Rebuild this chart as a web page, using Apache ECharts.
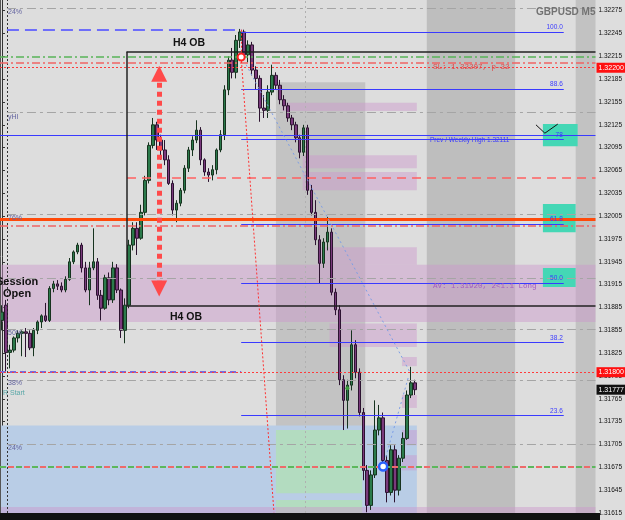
<!DOCTYPE html>
<html><head><meta charset="utf-8">
<script src="https://cdn.jsdelivr.net/npm/echarts@6/dist/echarts.min.js"></script>
<style>html,body{margin:0;padding:0;background:#dddddd}#c{width:625px;height:520px}</style>
</head><body><div id="c"></div>
<script>
// ---- data (GBPUSD M5) ----
const opens = [
1.31868,1.31888,1.31826,1.31829,1.31845,1.31851,1.31853,1.31851,1.31832,1.31855,
1.31866,1.31874,1.31868,1.31910,1.31916,1.31913,1.31908,1.31922,1.31945,1.31958,
1.31967,1.31937,1.31908,1.31937,1.31945,1.31901,1.31884,1.31924,1.31895,1.31937,
1.31908,1.31855,1.31888,1.31967,1.31989,1.31976,1.32010,1.32052,1.32098,1.32125,
1.32105,1.32092,1.32079,1.32048,1.32013,1.32022,1.32039,1.32068,1.32092,1.32105,
1.32118,1.32079,1.32063,1.32059,1.32066,1.32092,1.32112,1.32171,1.32210,1.32194,
1.32236,1.32247,1.32217,1.32230,1.32197,1.32186,1.32147,1.32144,1.32168,1.32190,
1.32177,1.32158,1.32150,1.32134,1.32125,1.32108,1.32089,1.32121,1.32039,1.32010,
1.31974,1.31943,1.31971,1.31984,1.31905,1.31882,1.31790,1.31763,1.31783,1.31836,
1.31800,1.31747,1.31671,1.31625,1.31665,1.31724,1.31740,1.31684,1.31642,1.31698,
1.31645,1.31687,1.31713,1.31770,1.31786];
const closes = [
1.31879,1.31826,1.31829,1.31845,1.31851,1.31853,1.31851,1.31832,1.31855,1.31866,
1.31874,1.31868,1.31910,1.31916,1.31913,1.31908,1.31922,1.31945,1.31958,1.31967,
1.31937,1.31908,1.31937,1.31945,1.31901,1.31884,1.31924,1.31895,1.31937,1.31908,
1.31855,1.31888,1.31967,1.31989,1.31976,1.32010,1.32052,1.32098,1.32125,1.32105,
1.32092,1.32079,1.32048,1.32013,1.32022,1.32039,1.32068,1.32092,1.32105,1.32118,
1.32079,1.32063,1.32059,1.32066,1.32092,1.32112,1.32171,1.32210,1.32194,1.32236,
1.32247,1.32217,1.32230,1.32197,1.32186,1.32147,1.32144,1.32168,1.32190,1.32177,
1.32158,1.32150,1.32134,1.32125,1.32108,1.32089,1.32121,1.32039,1.32010,1.31974,
1.31943,1.31971,1.31984,1.31905,1.31882,1.31790,1.31763,1.31783,1.31836,1.31800,
1.31747,1.31671,1.31625,1.31665,1.31724,1.31740,1.31684,1.31642,1.31698,1.31645,
1.31687,1.31713,1.31770,1.31786,1.31777];
const highs = [
1.31888,1.31895,1.31836,1.31847,1.31855,1.31855,1.31858,1.31855,1.31858,1.31868,
1.31876,1.31891,1.31913,1.31920,1.31921,1.31918,1.31926,1.31950,1.31960,1.31970,
1.31970,1.31945,1.31945,1.31989,1.31950,1.31908,1.31928,1.31931,1.31945,1.31942,
1.31910,1.31897,1.31974,1.31997,1.31997,1.32020,1.32058,1.32102,1.32134,1.32129,
1.32112,1.32105,1.32085,1.32052,1.32026,1.32042,1.32072,1.32096,1.32110,1.32131,
1.32122,1.32081,1.32068,1.32072,1.32094,1.32118,1.32177,1.32215,1.32226,1.32243,
1.32251,1.32250,1.32236,1.32234,1.32202,1.32190,1.32164,1.32177,1.32204,1.32194,
1.32184,1.32164,1.32154,1.32138,1.32129,1.32112,1.32125,1.32125,1.32046,1.32026,
1.31980,1.31976,1.32004,1.31989,1.31910,1.31888,1.31796,1.31790,1.31855,1.31842,
1.31805,1.31753,1.31678,1.31671,1.31763,1.31757,1.31747,1.31691,1.31704,1.31704,
1.31691,1.31721,1.31776,1.31807,1.31790];
const lows = [
1.31855,1.31800,1.31805,1.31826,1.31839,1.31821,1.31820,1.31829,1.31821,1.31850,
1.31858,1.31866,1.31866,1.31905,1.31908,1.31905,1.31905,1.31920,1.31942,1.31955,
1.31931,1.31905,1.31888,1.31934,1.31895,1.31868,1.31882,1.31888,1.31891,1.31904,
1.31845,1.31838,1.31884,1.31960,1.31954,1.31974,1.32006,1.32048,1.32094,1.32092,
1.32079,1.32072,1.32046,1.32006,1.31997,1.32018,1.32035,1.32063,1.32084,1.32101,
1.32072,1.32058,1.32050,1.32052,1.32060,1.32089,1.32105,1.32164,1.32186,1.32186,
1.32226,1.32210,1.32207,1.32190,1.32171,1.32129,1.32134,1.32134,1.32164,1.32171,
1.32152,1.32144,1.32129,1.32118,1.32102,1.32081,1.32084,1.32033,1.32006,1.31967,
1.31917,1.31937,1.31960,1.31901,1.31875,1.31783,1.31724,1.31726,1.31776,1.31792,
1.31742,1.31658,1.31616,1.31619,1.31661,1.31717,1.31671,1.31629,1.31638,1.31629,
1.31638,1.31682,1.31711,1.31766,1.31770];
const slotCount = 150;                       // bar slots across the chart (incl. empty future)
const categories = Array.from({length: slotCount}, (_, i) => 'bar' + i);
const priceTicks = [1.31615,1.31645,1.31675,1.31705,1.31735,1.31765,1.31795,1.31825,1.31855,
  1.31885,1.31915,1.31945,1.31975,1.32005,1.32035,1.32065,1.32095,1.32125,1.32155,1.32185,
  1.32215,1.32245,1.32275];
const fibLevels = [1.32247,1.32172,1.32106,1.31995,1.31917,1.31839,1.31743];
const fibLabels = ['100.0','88.6','78','61.8','50.0','38.2','23.6'];
const yMin = 1.31615, yMax = 1.32289;

// ---- drawing helpers ----
const L = -0.5, R = 149.5; // bar-unit extent
const BLUE = '#3a3aff';
const GRAY_DD = {color:'#a5a5a5', width:1, type:[9,4,3,4]};
function hline(p, x1, x2, style, label){
  return [{coord:[x1,p], lineStyle:style, label: label || {show:false}}, {coord:[x2,p]}];
}
function seg(x1,p1,x2,p2,style){
  return [{coord:[x1,p1], lineStyle:style, label:{show:false}}, {coord:[x2,p2]}];
}
function area(x1,p1,x2,p2,color){
  return [{coord:[x1,p1], itemStyle:{color:color}}, {coord:[x2,p2]}];
}
function priceTag(txt, bg){
  return {show:true, position:'end', formatter:txt, backgroundColor:bg, color:'#fff',
    fontSize:7, fontFamily:'Liberation Sans', padding:[2,2,1,2], distance:1};
}
const PINK = 'rgba(205,150,205,0.45)';
const SOLID = (c, w) => ({color:c, width:w, type:'solid'});

const zoneAreas = [
  area(69, 1.32181, 91.5, yMin, '#c3c3c3'),
  area(107, yMax, 129.25, yMin, '#bebebe'),
  area(144.5, yMax, R, yMin, '#c2c2c2'),
  area(L, 1.31730, 104.5, yMin, '#b9cde6'),
  area(69, 1.31724, 90.75, 1.31641, '#b3dcc0'),
  area(69, 1.31632, 90.75, yMin, '#b3dcc0'),
  area(L, 1.31941, R, 1.31866, PINK),
  area(70.5, 1.32154, 104.5, 1.32143, PINK),
  area(75.75, 1.32085, 104.5, 1.32068, PINK),
  area(75.75, 1.32063, 104.5, 1.32039, PINK),
  area(79.5, 1.31964, 104.5, 1.31941, PINK),
  area(82.5, 1.31864, 104.5, 1.31833, PINK),
  area(100.75, 1.31820, 104.5, 1.31808, PINK),
  area(100.75, 1.31770, 104.5, 1.31753, PINK),
  area(100.75, 1.31724, 104.5, 1.31704, PINK),
  area(100.75, 1.31691, 104.5, 1.31671, PINK),
  area(L, 1.31623, R, yMin, PINK),
  area(136.25, 1.32126, 145, 1.32097, '#44d7b5'),
  area(136.25, 1.32021, 144.5, 1.31984, '#44d7b5'),
  area(136.25, 1.31937, 144.5, 1.31912, '#44d7b5')
];

const levelLines = [
  seg(-0.375, yMin, -0.375, yMax, SOLID('#555', 1)),
  seg(1.25, yMin, 1.25, yMax, {color:'#333', width:1, type:[2,2]}),
  seg(76.5, yMin, 76.5, yMax, {color:'#b0b0b0', width:1, type:[2,3]}),
  hline(1.32278, 1.25, R, GRAY_DD),
  hline(1.32250, 1.25, 60.25, {color:'#6e6efa', width:2, type:[12,6]}),
  hline(1.32214, L, R, {color:'#58b458', width:1.5, type:[8,3,2,3]}),
  hline(1.32207, L, R, {color:'#f06464', width:1.5, type:[8,3,2,3]}),
  hline(1.32200, L, R, {color:'#ff3b3b', width:1, type:[2,2]}, priceTag('1.32200','#ff1010')),
  hline(1.32142, 1.25, R, GRAY_DD),
  hline(1.32111, L, R, SOLID(BLUE, 1)),
  hline(1.32055, 31.5, R, {color:'#ff6060', width:1.5, type:[9,6]}),
  hline(1.32007, 1.25, R, GRAY_DD),
  hline(1.32001, L, R, SOLID('#ff4a0a', 3)),
  hline(1.31993, L, R, {color:'#f06464', width:1.5, type:[8,3,2,3]}),
  hline(1.31924, 1.25, R, GRAY_DD),
  hline(1.31856, 1.25, R, GRAY_DD),
  hline(1.31800, L, 60.25, {color:'#7a6ad8', width:2, type:[6,4]}),
  hline(1.31800, L, R, {color:'#ff3b3b', width:1, type:[2,2]}, priceTag('1.31800','#ff1010')),
  hline(1.31789, 1.25, R, GRAY_DD),
  hline(1.31705, 1.25, R, GRAY_DD),
  hline(1.31676, L, R, {color:'#5cb85c', width:2, type:[6,10], dashOffset:0}),
  hline(1.31676, L, R, {color:'#ee6a6a', width:2, type:[6,10], dashOffset:8}),
  hline(1.31777, 149, R, {color:'rgba(0,0,0,0)', width:1, type:'solid'}, priceTag('1.31777','#111')),
  hline(1.32221, 31.375, R, SOLID('#222', 1.5)),
  hline(1.31887, 31.375, R, SOLID('#222', 1.5)),
  seg(31.375, 1.32221, 31.375, 1.31887, SOLID('#222', 1.5))
];
fibLevels.forEach((p, i) => {
  levelLines.push(hline(p, 60.25, 141.5, SOLID(BLUE, 1),
    {show:true, position:'insideEndTop', formatter:fibLabels[i], color:BLUE,
     fontSize:6.5, fontFamily:'Liberation Sans', distance:1}));
});

const drawings = [
  seg(60.25, 1.32250, 60.25, 1.32214, {color:'#ff3030', width:1, type:[2,2]}),
  seg(60.25, 1.32214, 68.5, 1.31616, {color:'#ff3030', width:1, type:[2,2]}),
  seg(61.5, 1.32204, 102.75, 1.31800, {color:'#7c9ee6', width:1, type:[2,3]}),
  seg(96, 1.31676, 102.5, 1.31796, {color:'#7c9ee6', width:1, type:[2,3]}),
  seg(134.5, 1.32125, 136.75, 1.32114, SOLID('#111', 1)),
  seg(136.75, 1.32114, 140, 1.32126, SOLID('#111', 1))
];

const chart = echarts.init(document.getElementById('c'), null, {renderer:'canvas'});
const txt = (x, y, text, font, fill, align) => ({type:'text', x:x, y:y, z:200,
  style:{text:text, font:font, fill:fill, align:align||'left', verticalAlign:'middle'}});
chart.setOption({
  animation:false,
  backgroundColor:'#dddddd',
  grid:{left:0, right:25, top:0, bottom:7},
  xAxis:[
    {type:'category', data:categories, show:false, boundaryGap:true},
    {type:'value', min:L, max:R, show:false}
  ],
  yAxis:{type:'value', position:'right', min:yMin, max:yMax, scale:true,
    splitLine:{show:false},
    axisLine:{show:true, lineStyle:{color:'#333'}},
    axisTick:{show:true, length:3, customValues:priceTicks, lineStyle:{color:'#333'}},
    axisLabel:{customValues:priceTicks, fontSize:6.5, color:'#111', margin:3,
      fontFamily:'Liberation Sans', formatter:v => v.toFixed(5)}},
  series:[
    {type:'line', name:'zones', xAxisIndex:1, data:[], z:1, silent:true,
     markArea:{silent:true, data:zoneAreas}},
    {type:'line', name:'levels', xAxisIndex:1, data:[], z:2, silent:true,
     markLine:{silent:true, symbol:['none','none'], label:{show:false}, data:levelLines}},
    {type:'candlestick', name:'GBPUSD', xAxisIndex:0, z:3, barWidth:3,
     data: opens.map((o,i) => [o, closes[i], lows[i], highs[i]]),
     itemStyle:{color:'#2b7a4b', color0:'#7a3a7c', borderColor:'#17331f', borderColor0:'#2c1330', borderWidth:1}},
    {type:'line', name:'drawings', xAxisIndex:1, data:[], z:4, silent:true,
     markLine:{silent:true, symbol:['none','none'], label:{show:false}, data:drawings},
     markPoint:{silent:true, label:{show:false}, data:[
       {coord:[60.25,1.32214], symbol:'circle', symbolSize:7, itemStyle:{color:'#fff', borderColor:'#ff2020', borderWidth:2}},
       {coord:[96,1.31676], symbol:'circle', symbolSize:8, itemStyle:{color:'#fff', borderColor:'#2a62ff', borderWidth:2.5}},
       {coord:[87,1.31779], symbol:'circle', symbolSize:4, itemStyle:{color:'#3c9a3c'}}
     ]}},
    {type:'line', name:'arrow', xAxisIndex:1, data:[], z:5, silent:true,
     markLine:{silent:true, symbol:['triangle','triangle'], symbolSize:16, label:{show:false},
       lineStyle:{color:'#ff4a4a', width:5, type:[5,4]}, itemStyle:{color:'#ff4a4a'},
       data:[[{coord:[39.6,1.32192]},{coord:[39.6,1.31910]}]]}}
  ],
  graphic:[
    {type:'rect', z:150, shape:{x:0, y:513, width:600, height:7}, style:{fill:'#111'}},
    txt(536, 12, 'GBPUSD M5', 'bold 10px "Liberation Sans"', '#727272'),
    txt(189, 43, 'H4 OB', 'bold 10.5px "Liberation Sans"', '#111', 'center'),
    txt(186, 317, 'H4 OB', 'bold 10.5px "Liberation Sans"', '#111', 'center'),
    txt(-4, 282, 'Session', 'bold 11px "Liberation Sans"', '#111'),
    txt(3, 294, 'Open', 'bold 11px "Liberation Sans"', '#111'),
    txt(433, 67, 'SL: 1.32207, p-32', '7.5px "Liberation Mono"', '#e04848'),
    txt(430, 140, 'Prev / Weekly High 1.32111', '6.5px "Liberation Sans"', BLUE),
    txt(433, 286, 'AV: 1.31920, 2<1.1 Long', '7.5px "Liberation Mono"', '#a45cc0'),
    txt(8, 12, '24%', '7px "Liberation Sans"', '#6464a0'),
    txt(8, 117, 'yHI', '7px "Liberation Sans"', '#6464a0'),
    txt(8, 218, '76%', '7px "Liberation Sans"', '#6464a0'),
    txt(8, 333, '50%', '7px "Liberation Sans"', '#6464a0'),
    txt(8, 383, '38%', '7px "Liberation Sans"', '#6464a0'),
    txt(3, 393, 'R Start', '7px "Liberation Sans"', '#5aa8a8'),
    txt(8, 448, '24%', '7px "Liberation Sans"', '#6464a0')
  ]
});
</script></body></html>
